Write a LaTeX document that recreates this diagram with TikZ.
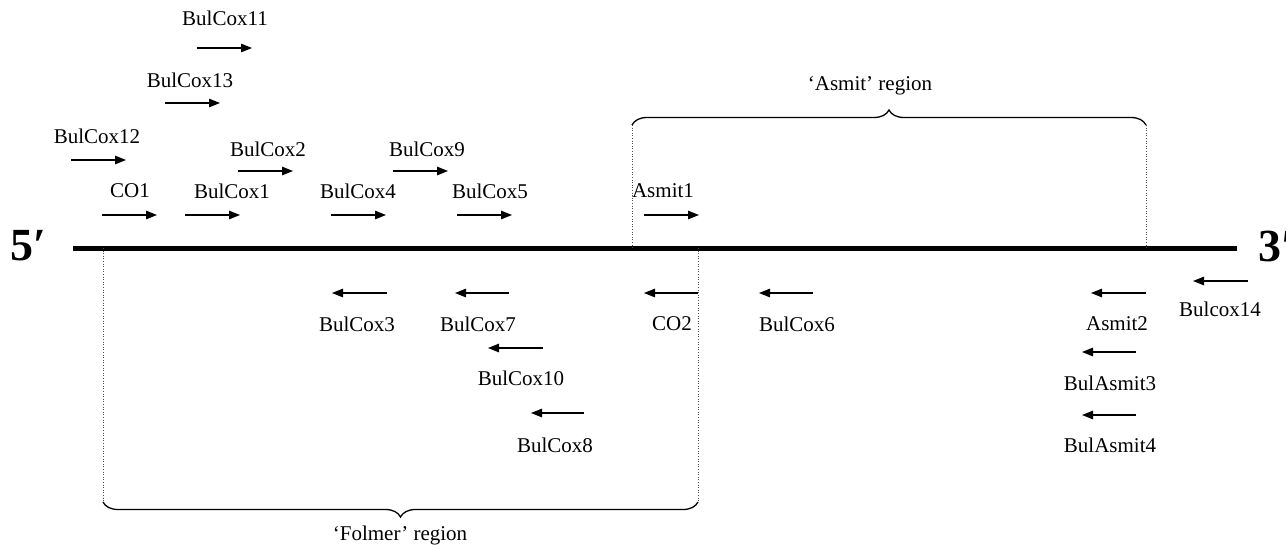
\documentclass[tikz,border=0pt]{standalone}
\usepackage{fontspec}
\setmainfont{Liberation Serif}
\usetikzlibrary{arrows.meta,decorations.pathreplacing}
\tikzset{
  primer/.style={line width=1.2pt, -{Triangle[length=11pt,width=8.5pt]}},
  lbl/.style={font=\fontsize{21}{23}\selectfont, inner sep=0pt},
  region/.style={dotted, line width=0.6pt, black!70},
  regbrace/.style={decorate, decoration={brace, amplitude=15pt}, line width=1.3pt},
}
\begin{document}
\begin{tikzpicture}[x=1pt, y=-1pt]
    \useasboundingbox (0,0) rectangle (1286,546);
    % the strand
    \draw [line width=5pt] (73,248) -- (1237,248);
    \node [font=\bfseries\fontsize{46}{48}\selectfont, inner sep=0pt] (five) at (28,246) {5′};
    \node [font=\bfseries\fontsize{46}{48}\selectfont, inner sep=0pt, anchor=west] (three) at (1258,246) {3′};
    % regions
    \draw [region] (632,125) -- (632,248);
    \draw [region] (1146,125) -- (1146,248);
    \draw [regbrace] (632,125) -- (1146,125);
    \node [lbl] (asmitreg) at (870,86) {‘Asmit’ region};
    \draw [region] (103,248) -- (103,502);
    \draw [region] (698,248) -- (698,502);
    \draw [regbrace] (698,502) -- (103,502);
    \node [lbl] (folmerreg) at (400,535) {‘Folmer’ region};
    % forward primers
    \draw [primer] (197,48) -- (252,48);   \node [lbl] (bc11) at (225,18) {BulCox11};
    \draw [primer] (165,103) -- (220,103); \node [lbl] (bc13) at (190,80) {BulCox13};
    \draw [primer] (71,160) -- (126,160);  \node [lbl] (bc12) at (97,136) {BulCox12};
    \draw [primer] (238,171) -- (293,171); \node [lbl] (bc2) at (268,149) {BulCox2};
    \draw [primer] (393,171) -- (448,171); \node [lbl] (bc9) at (427,149) {BulCox9};
    \draw [primer] (102,215) -- (157,215); \node [lbl] (co1) at (130,191) {CO1};
    \draw [primer] (185,215) -- (240,215); \node [lbl] (bc1) at (232,191) {BulCox1};
    \draw [primer] (331,215) -- (386,215); \node [lbl] (bc4) at (358,191) {BulCox4};
    \draw [primer] (457,215) -- (512,215); \node [lbl] (bc5) at (490,191) {BulCox5};
    \draw [primer] (644,215) -- (699,215); \node [lbl] (as1) at (663,191) {Asmit1};
    % reverse primers
    \draw [primer] (387,293) -- (332,293); \node [lbl] (bc3) at (357,324) {BulCox3};
    \draw [primer] (509,293) -- (455,293); \node [lbl] (bc7) at (478,324) {BulCox7};
    \draw [primer] (698,293) -- (644,293); \node [lbl] (co2) at (672,324) {CO2};
    \draw [primer] (813,293) -- (759,293); \node [lbl] (bc6) at (797,324) {BulCox6};
    \draw [primer] (1146,293) -- (1091,293); \node [lbl] (as2) at (1117,324) {Asmit2};
    \draw [primer] (1248,281) -- (1193,281); \node [lbl] (bc14) at (1220,309) {Bulcox14};
    \draw [primer] (543,348) -- (488,348); \node [lbl] (bc10) at (521,378) {BulCox10};
    \draw [primer] (1136,352) -- (1082,352); \node [lbl] (ba3) at (1110,383) {BulAsmit3};
    \draw [primer] (584,413) -- (531,413); \node [lbl] (bc8) at (555,445) {BulCox8};
    \draw [primer] (1136,415) -- (1082,415); \node [lbl] (ba4) at (1110,445) {BulAsmit4};
\end{tikzpicture}
\end{document}
